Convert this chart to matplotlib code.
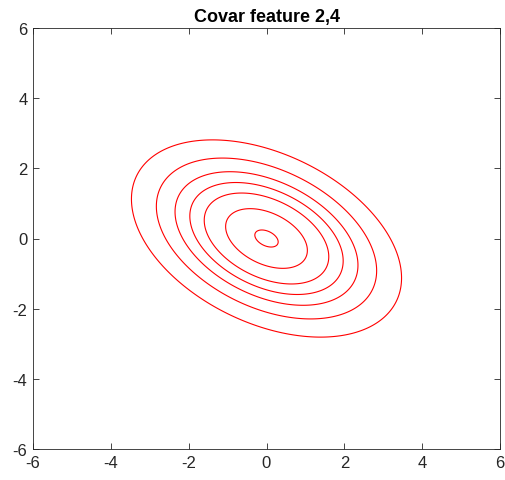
import numpy as np
from matplotlib import pyplot as plt

# Gaussian: spread of the two features and their correlation.
mean = [0.0, 0.0]
sigma = [1.0, 0.81]
rho = -0.4
# Mahalanobis radius of each drawn contour, inner to outer.
radii = [0.3, 1.05, 1.6, 1.97, 2.35, 2.83, 3.47]

ticks = [-6, -4, -2, 0, 2, 4, 6]

# Evaluate the density on a grid.
x = np.linspace(-6, 6, 601)
y = np.linspace(-6, 6, 601)
X, Y = np.meshgrid(x, y)
dx = (X - mean[0]) / sigma[0]
dy = (Y - mean[1]) / sigma[1]
q = (dx**2 - 2 * rho * dx * dy + dy**2) / (1 - rho**2)
norm = 1.0 / (2 * np.pi * sigma[0] * sigma[1] * np.sqrt(1 - rho**2))
Z = norm * np.exp(-q / 2)
levels = sorted(norm * np.exp(-np.array(radii) ** 2 / 2))

plt.rcParams["font.family"] = ["Liberation Sans", "DejaVu Sans"]
plt.rcParams["axes.unicode_minus"] = False

fig = plt.figure(figsize=(5.05, 4.81), dpi=100)
ax = fig.add_axes([33 / 505, 31 / 481, 467 / 505, 421 / 481])
ax.contour(X, Y, Z, levels=levels, colors="#ff0000", linewidths=0.8)

ax.set_xlim(-6, 6)
ax.set_ylim(-6, 6)
ax.set_xticks(ticks)
ax.set_yticks(ticks)
ax.tick_params(direction="in", length=4, width=0.6, top=True, right=True,
               labelsize=12, colors="#262626", pad=4)
for spine in ax.spines.values():
    spine.set_color("#262626")
    spine.set_linewidth(0.6)
ax.set_title("Covar feature 2,4", fontsize=13, fontweight="bold", pad=5)

fig.savefig("out.png", dpi=100)
